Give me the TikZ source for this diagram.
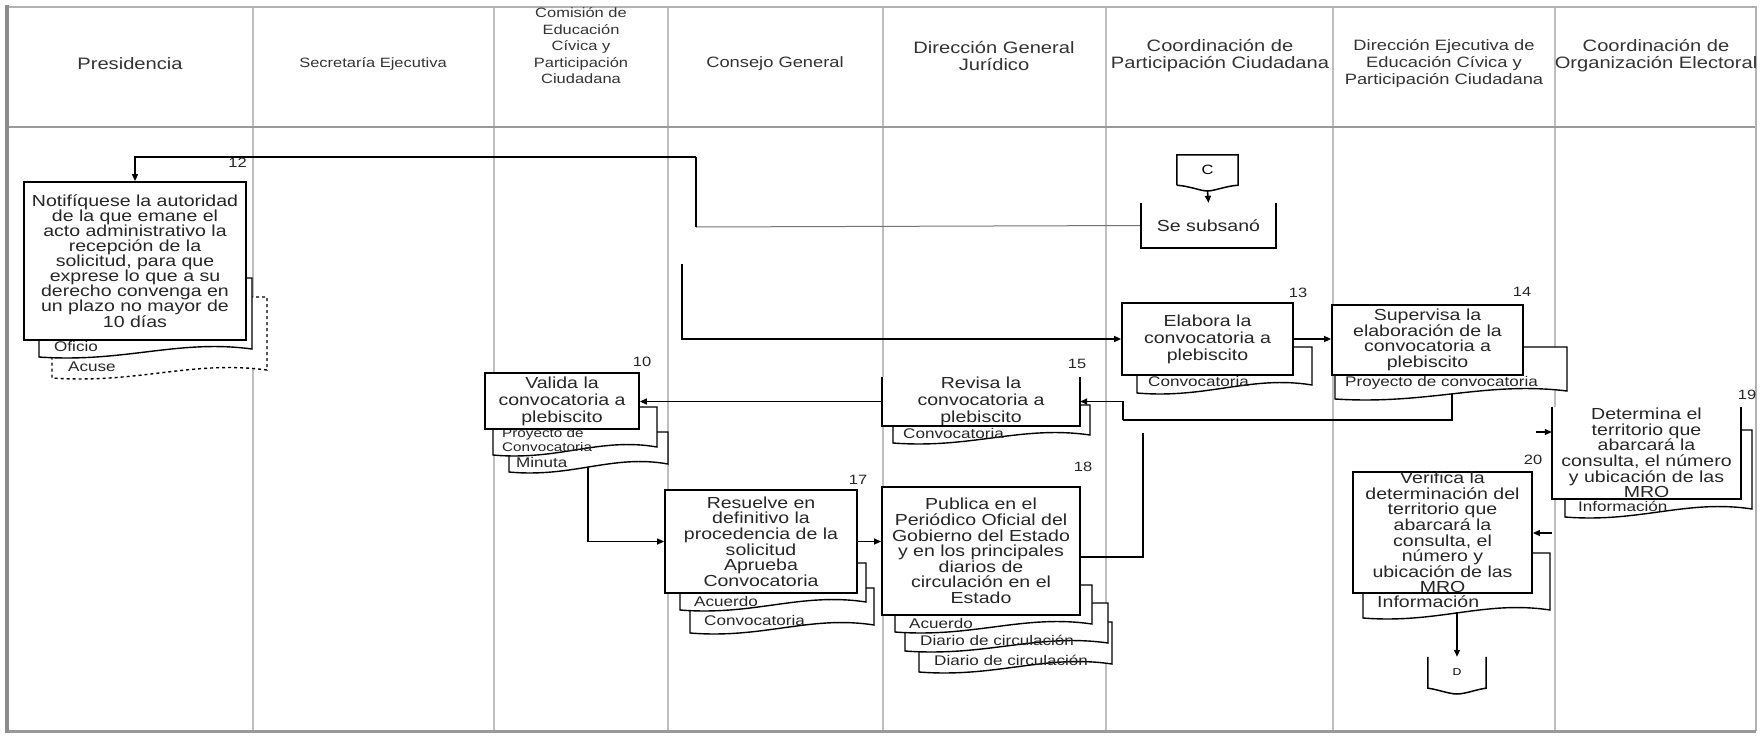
\documentclass[tikz,border=0pt]{standalone}
\usepackage{fontspec}
\setmainfont{Liberation Sans}[FakeStretch=1.22]
\usetikzlibrary{arrows.meta}
\newcommand{\btxt}{\fontsize{16}{15.6}\selectfont}
\newcommand{\htxt}{\fontsize{16.5}{17}\selectfont}
\newcommand{\dtxt}{\fontsize{14}{14.5}\selectfont}
\newcommand{\ntxt}{\fontsize{13.5}{14}\selectfont}
\tikzset{
  lane/.style={draw=black!25, line width=1.2pt},
  frameline/.style={draw=black!40, line width=2pt},
  procbox/.style={draw=black, line width=1.8pt, fill=white, inner sep=0pt, align=center, font=\btxt, text=black!85},
  openbox/.style={draw=none, fill=white, inner sep=0pt, align=center, font=\btxt, text=black!85},
  boxedge/.style={draw=black, line width=1.8pt},
  docline/.style={draw=black, fill=white, line width=1.4pt},
  doctxt/.style={anchor=west, inner sep=0pt, font=\dtxt, text=black!85},
  flow/.style={draw=black, line width=1.5pt, -{Triangle[length=7pt,width=6pt]}},
  plain/.style={draw=black, line width=1.5pt},
  thinline/.style={draw=black!55, line width=1pt},
  num/.style={font=\ntxt, inner sep=0pt, text=black!85},
  hdr/.style={font=\htxt, align=center, text=black!80, inner sep=0pt},
}
\newcommand{\docshape}[5][]{%
  \filldraw[docline,#1] ({#2},{#3}) -- ({#4},{#3}) -- ({#4},{#5-8})
    .. controls ({#4-0.35*(#4-#2)},{#5-18}) and ({#2+0.4*(#4-#2)},{#5+6}) .. ({#2},{#5}) -- cycle;}
\begin{document}
\begin{tikzpicture}[x=1pt,y=-1pt]
\useasboundingbox (0,0) rectangle (1760,736);
% ---------- frame and lanes ----------
\foreach \xx in {253,494,668,883,1106,1333,1555}{\draw[lane] (\xx,7) -- (\xx,731);}
\draw[frameline] (7,127) -- (1756,127);
\draw[draw=black!30, line width=1.2pt] (7,7) -- (1756,7) -- (1756,731);
\draw[draw=black!40, line width=3pt] (7,731) -- (1756,731);
\draw[draw=black!45, line width=4pt] (7,5) -- (7,733);
% ---------- headers ----------
\node[hdr] (h1) at (130,64) {Presidencia};
\node[hdr, font=\fontsize{13.5}{17}\selectfont] (h2) at (373,64) {Secretaría Ejecutiva};
\node[hdr, font=\fontsize{13.5}{16.5}\selectfont] (h3) at (581,46) {Comisión de\\Educación\\Cívica y\\Participación\\Ciudadana};
\node[hdr, font=\fontsize{15}{17}\selectfont] (h4) at (775,64) {Consejo General};
\node[hdr] (h5) at (994,56) {Dirección General\\Jurídico};
\node[hdr] (h6) at (1220,56) {Coordinación de\\Participación Ciudadana};
\node[hdr, font=\fontsize{15}{17}\selectfont] (h7) at (1444,64) {Dirección Ejecutiva de\\Educación Cívica y\\Participación Ciudadana};
\node[hdr] (h8) at (1656,56) {Coordinación de\\Organización Electoral};
% ---------- named points for connectors ----------
\coordinate (j1) at (696,227);
\coordinate (j2) at (696,157);
\coordinate (j3) at (682,264);
\coordinate (d10b) at (588,466);
\coordinate (d14b) at (1452,394);
\coordinate (k1) at (1123,420);
\coordinate (b18r) at (1080,557);
\coordinate (k2) at (1143,433);
\coordinate (s19) at (1536,432);
\coordinate (s20) at (1552,533);
\coordinate (d20b) at (1457,612);
% ---------- connectors (behind shapes) ----------
\node[openbox, minimum width=135pt, minimum height=45pt] (sub) at (1208.5,225.5) {Se subsanó};
\node[procbox, minimum width=222pt, minimum height=158pt, draw=none, fill=none] (b12) at (135,261) {};
\draw[thinline] (sub.west) -- (j1);
\draw[plain] (j1) -- (j2);
\draw[flow] (j2) -| (b12.north);
\node[procbox, minimum width=171pt, minimum height=72pt, draw=none, fill=none] (b13p) at (1207.5,339) {};
\draw[flow] (j3) |- (b13p.west);
\draw[plain] (d14b) |- (k1);
\node[openbox, minimum width=198pt, minimum height=49pt, fill=none] (b15p) at (981,401.5) {};
\draw[flow] (k1) |- (b15p.east);
\draw[plain] (b18r) -| (k2);
\node[procbox, minimum width=192pt, minimum height=103pt, draw=none, fill=none] (b17p) at (761,541.5) {};
\draw[flow] (d10b) |- (b17p.west);
\node[procbox, minimum width=179pt, minimum height=121pt, draw=none, fill=none] (b20p) at (1442.5,532.5) {};
\node[openbox, minimum width=189pt, minimum height=92pt, fill=none] (b19p) at (1646.5,453) {};
\draw[flow] (s19) -- (s19 -| b19p.west);
\draw[flow] (s20) -- (s20 -| b20p.east);
% ---------- box 12 ----------
\docshape[dashed]{52}{297}{267}{378}
\node[doctxt] (t12a) at (68,367) {Acuse};
\docshape{39}{278}{252}{357}
\node[doctxt] (t12o) at (54,346) {Oficio};
\node[procbox, minimum width=222pt, minimum height=158pt, font=\fontsize{16}{15}\selectfont] (n12) at (135,261)
 {Notifíquese la autoridad\\de la que emane el\\acto administrativo la\\recepción de la\\solicitud, para que\\exprese lo que a su\\derecho convenga en\\un plazo no mayor de\\10 días};
\node[num, anchor=east] (l12) at (247,163) {12};
% ---------- box 10 ----------
\docshape{509}{432}{668}{472}
\node[doctxt] (t10m) at (516,462) {Minuta};
\docshape{493}{407}{657}{455}
\node[doctxt, align=left, font=\fontsize{12.5}{14}\selectfont] (t10p) at (502,440) {Proyecto de\\Convocatoria};
\node[procbox, minimum width=154pt, minimum height=56pt, font=\fontsize{16}{17}\selectfont] (b10) at (562,401) {Valida la\\convocatoria a\\plebiscito};
\node[num] (l10) at (642,362) {10};
% ---------- box 15 ----------
\docshape{893}{405}{1090}{443}
\node[doctxt] (t15) at (903,433) {Convocatoria};
\node[openbox, minimum width=198pt, minimum height=49pt, font=\fontsize{16}{17}\selectfont] (b15) at (981,401.5) {Revisa la\\convocatoria a\\plebiscito};
\draw[boxedge] (b15.north west) -- (b15.south west) -- (b15.south east) -- (b15.north east);
\node[num] (l15) at (1077,364) {15};
\draw[flow] (b15.west) -- (b15.west -| b10.east);
% ---------- box 17 ----------
\docshape{690}{588}{874}{633}
\node[doctxt] (t17c) at (704,620) {Convocatoria};
\docshape{680}{563}{866}{610}
\node[doctxt] (t17a) at (694,601) {Acuerdo};
\node[procbox, minimum width=192pt, minimum height=103pt] (b17) at (761,541.5) {Resuelve en\\definitivo la\\procedencia de la\\solicitud\\Aprueba\\Convocatoria};
\node[num] (l17) at (858,480) {17};
% ---------- box 18 ----------
\docshape{919}{622}{1112}{672}
\node[doctxt] (t18c2) at (934,660) {Diario de circulación};
\docshape{905}{603}{1108}{651}
\node[doctxt] (t18c1) at (920,640) {Diario de circulación};
\docshape{895}{585}{1092}{632}
\node[doctxt] (t18a) at (909,623) {Acuerdo};
\node[procbox, minimum width=198pt, minimum height=128pt] (b18) at (981,551) {Publica en el\\Periódico Oficial del\\Gobierno del Estado\\y en los principales\\diarios de\\circulación en el\\Estado};
\node[num] (l18) at (1083,467) {18};
\draw[flow] (b17.east) -- (b17.east -| b18.west);
% ---------- C, Se subsano ----------
\node[inner sep=0pt, minimum width=61pt, minimum height=30pt, font=\ntxt] (C) at (1207.5,170) {C};
\draw[boxedge, line width=1.5pt] (C.south west) -- (C.north west) -- (C.north east) -- (C.south east)
  .. controls (1226,186) and (1214,191) .. (1207.5,191) .. controls (1201,191) and (1189,186) .. (C.south west);
\node[openbox, minimum width=135pt, minimum height=45pt] (sub2) at (1208.5,225.5) {Se subsanó};
\draw[boxedge, line width=1.5pt] (sub2.north west) -- (sub2.south west) -- (sub2.south east) -- (sub2.north east);
\draw[flow] (1207.5,191) -- (sub2.north);
% ---------- box 13 ----------
\docshape{1137}{347}{1312}{393}
\node[doctxt] (t13) at (1148,381) {Convocatoria};
\node[procbox, minimum width=171pt, minimum height=72pt, font=\fontsize{16}{17}\selectfont] (b13) at (1207.5,339) {Elabora la\\convocatoria a\\plebiscito};
\node[num] (l13) at (1298,293) {13};
% ---------- box 14 ----------
\docshape{1335}{347}{1567}{399}
\node[doctxt] (t14) at (1345,383) {Proyecto de convocatoria};
\node[procbox, minimum width=191pt, minimum height=70pt] (b14) at (1427.5,340) {Supervisa la\\elaboración de la\\convocatoria a\\plebiscito};
\node[num] (l14) at (1522,292) {14};
\draw[flow] (b13.east) -- (b13.east -| b14.west);
% ---------- box 19 ----------
\docshape{1565}{430}{1752}{517}
\node[doctxt] (t19) at (1578,506) {Información};
\node[openbox, minimum width=189pt, minimum height=92pt] (b19) at (1646.5,453) {Determina el\\territorio que\\abarcará la\\consulta, el número\\y ubicación de las\\MRO};
\draw[boxedge] (b19.north west) -- (b19.south west) -- (b19.south east) -- (b19.north east);
\node[num] (l19) at (1747,395) {19};
% ---------- box 20 ----------
\docshape{1363}{553}{1550}{618}
\node[doctxt, font=\fontsize{16}{16}\selectfont] (t20) at (1377,602) {Información};
\node[procbox, minimum width=179pt, minimum height=121pt] (b20) at (1442.5,532.5) {Verifica la\\determinación del\\territorio que\\abarcará la\\consulta, el\\número y\\ubicación de las\\MRO};
\node[num] (l20) at (1533,460) {20};
% ---------- D connector ----------
\node[inner sep=0pt, minimum width=58pt, minimum height=31pt, font=\fontsize{10}{10}\selectfont] (D) at (1457,672.5) {D};
\draw[boxedge, line width=1.5pt] (D.north west) -- (D.south west)
  .. controls (1436,689) and (1449,694) .. (1457,694) .. controls (1465,694) and (1478,689) .. (D.south east) -- (D.north east);
\draw[flow] (d20b) -- (D.north);
\end{tikzpicture}
\end{document}
